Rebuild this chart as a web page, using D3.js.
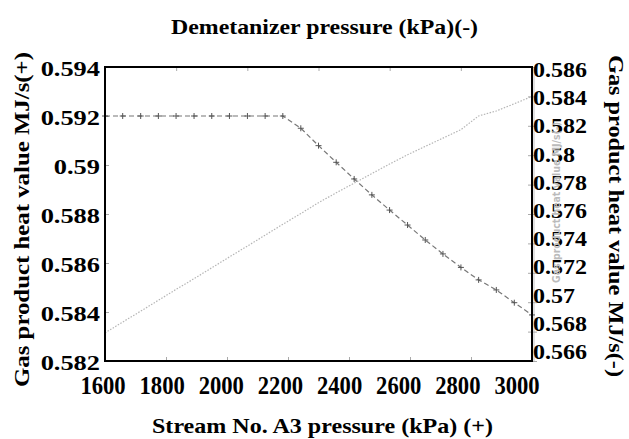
<!DOCTYPE html>
<html><head><meta charset="utf-8">
<script src="https://cdn.jsdelivr.net/npm/d3@7"></script>
<style>
html,body{margin:0;padding:0;background:#fff;}
svg text{font-family:"Liberation Serif","Times New Roman",serif;font-weight:bold;fill:#000;}
</style></head>
<body><svg id="c" width="629" height="439"></svg>
<script>
// ---- data ----
const streamPressure = [1600,1658,1717,1775,1833,1892,1950,2008,2067,2125,2183,2242,2300,2358,2417,2475,2533,2592,2650,2708,2767,2825,2883,2942,3000];
const heatValuePlus = [0.592,0.592,0.592,0.592,0.592,0.592,0.592,0.592,0.592,0.592,0.592,
  0.59150,0.59079,0.59011,0.58943,0.58878,0.58816,0.58755,0.58694,0.58637,0.58582,0.58531,0.58490,0.58438,0.58388];
const heatValueMinus = [0.56791,0.56865,0.56939,0.57013,0.57087,0.57160,0.57234,0.57308,0.57382,0.57456,0.57530,
  0.57603,0.57677,0.57744,0.57810,0.57875,0.57940,0.58003,0.58060,0.58116,0.58174,0.58267,0.58301,0.58350,0.58400];
const xTicks = [1600,1800,2000,2200,2400,2600,2800,3000];
const leftTicks = [0.582,0.584,0.586,0.588,0.59,0.592,0.594];
const leftTickLabels = ["0.582","0.584","0.586","0.588","0.59","0.592","0.594"];
const rightTicks = [0.566,0.568,0.57,0.572,0.574,0.576,0.578,0.58,0.582,0.584,0.586];
const rightTickLabels = ["0.566","0.568","0.57","0.572","0.574","0.576","0.578","0.58","0.582","0.584","0.586"];
const topTicks = [0,1,2,3,4,5,6];
const titleTop = "Demetanizer pressure (kPa)(-)";
const titleBottom = "Stream No. A3 pressure (kPa) (+)";
const titleLeft = "Gas product heat value MJ/s(+)";
const titleRight = "Gas product heat value MJ/s(-)";

// ---- layout ----
const L = 105, R = 532, T = 67, B = 361;
const svg = d3.select("#c");
const x = d3.scaleLinear().domain([1600,3000]).range([L,R]);
const xLabel = d3.scaleLinear().domain([1600,3000]).range([103,517]);   // labels sit slightly left of ticks
const xTop = d3.scaleLinear().domain([0,6]).range([L,R]);
const yL = d3.scaleLinear().domain([0.582,0.594]).range([B,T]);
const yR = d3.scaleLinear().domain([0.566,0.586]).range([B,T]);
const yRLabel = d3.scaleLinear().domain([0.566,0.586]).range([352,70]);

// ghost right axis line
svg.append("line").attr("x1",R+2).attr("x2",R+2).attr("y1",T).attr("y2",B).attr("stroke","#c4c4c4").attr("stroke-width",1);

// ticks (inside)
const gB = svg.append("g").attr("transform",`translate(0,${B})`)
  .call(d3.axisBottom(x).tickValues(xTicks).tickSize(-4).tickFormat(""));
const gT = svg.append("g").attr("transform",`translate(0,${T})`)
  .call(d3.axisTop(xTop).tickValues(topTicks).tickSize(-4).tickFormat(""));
const gL = svg.append("g").attr("transform",`translate(${L},0)`)
  .call(d3.axisLeft(yL).tickValues(leftTicks).tickSize(-4).tickFormat(""));
const gR = svg.append("g").attr("transform",`translate(${R},0)`)
  .call(d3.axisRight(yR).tickValues(rightTicks).tickSize(5).tickFormat(""));
gR.selectAll(".tick").append("line").attr("x2",-4).attr("stroke","#aaa");
[gB,gT,gL,gR].forEach(g=>{g.select(".domain").remove(); g.selectAll(".tick line").attr("stroke","#aaa");});

// series
const lineMinus = d3.line().x((d,i)=>x(streamPressure[i])).y(d=>yR(d));
svg.append("path").datum(heatValueMinus).attr("d",lineMinus)
  .attr("fill","none").attr("stroke","#b5b5b5").attr("stroke-width",1.2).attr("stroke-dasharray","1.5,1.5");

const linePlus = d3.line().x((d,i)=>x(streamPressure[i])).y(d=>yL(d));
svg.append("path").datum(heatValuePlus).attr("d",linePlus)
  .attr("fill","none").attr("stroke","#777").attr("stroke-width",1.2).attr("stroke-dasharray","5,3");
const mk = svg.append("g").selectAll("g").data(heatValuePlus).join("g")
  .attr("transform",(d,i)=>`translate(${x(streamPressure[i])},${yL(d)})`);
mk.append("line").attr("x1",-3).attr("x2",3).attr("stroke","#555").attr("stroke-width",1);
mk.append("line").attr("y1",-3).attr("y2",3).attr("stroke","#555").attr("stroke-width",1);

// frame
svg.append("rect").attr("x",L).attr("y",T).attr("width",R-L).attr("height",B-T)
  .attr("fill","none").attr("stroke","#000").attr("stroke-width",2);

// tick labels
svg.append("g").selectAll("text").data(leftTicks).join("text")
  .attr("transform",d=>`translate(100,${yL(d)+8.5}) scale(1.2,1)`)
  .attr("text-anchor","end").attr("font-size",22).text((d,i)=>leftTickLabels[i]);
svg.append("g").selectAll("text").data(rightTicks).join("text")
  .attr("transform",d=>`translate(533,${yRLabel(d)+7}) scale(1.2,1)`)
  .attr("text-anchor","start").attr("font-size",20).text((d,i)=>rightTickLabels[i]);
svg.append("g").selectAll("text").data(xTicks).join("text")
  .attr("transform",d=>`translate(${xLabel(d)},394) scale(0.87,1)`)
  .attr("text-anchor","middle").attr("font-size",26).text(d=>d);

// titles
svg.append("text").attr("x",171).attr("y",34).attr("font-size",21)
  .attr("textLength",307).attr("lengthAdjust","spacingAndGlyphs").text(titleTop);
svg.append("text").attr("x",152).attr("y",433).attr("font-size",22)
  .attr("textLength",341).attr("lengthAdjust","spacingAndGlyphs").text(titleBottom);
svg.append("text").attr("transform","translate(28.5,387) rotate(-90)").attr("font-size",22)
  .attr("textLength",335).attr("lengthAdjust","spacingAndGlyphs").text(titleLeft);
svg.append("text").attr("transform","translate(608.5,55) rotate(90)").attr("font-size",21)
  .attr("textLength",322).attr("lengthAdjust","spacingAndGlyphs").text(titleRight);
// faint ghost label
svg.append("text").attr("transform","translate(560,283) rotate(-90)")
  .attr("font-size",10).attr("font-weight","normal").style("fill","#bbb").style("font-family","DejaVu Sans")
  .attr("textLength",161).attr("lengthAdjust","spacingAndGlyphs").text(titleRight);
</script></body></html>
